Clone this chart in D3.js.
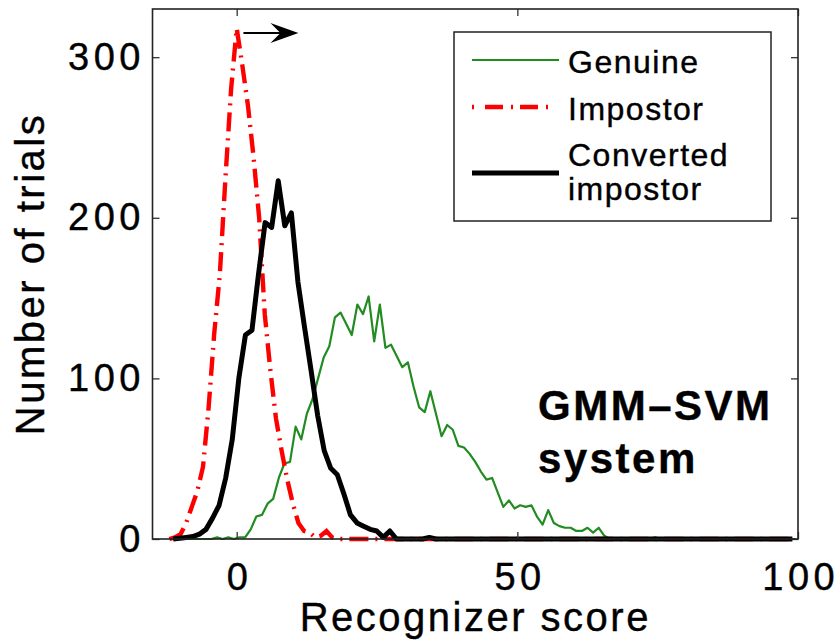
<!DOCTYPE html>
<html><head><meta charset="utf-8">
<script src="https://cdn.jsdelivr.net/npm/d3@7"></script>
<style>
body{margin:0;background:#fff}
svg{display:block}
text{font-family:"Liberation Sans",Arial,Helvetica,sans-serif;fill:#000;stroke:#000;stroke-width:0.4px}
</style>
</head><body>
<svg id="chart" width="838" height="644"></svg>
<script>
// ---- data ----
const xTicks = [0, 50, 100];
const yTicks = [0, 100, 200, 300];
const seriesNames = ["Genuine", "Impostor", "Converted impostor"];

const genuineScores = [-8.5,-7.5,-6.5,-5.5,-4.5,-3.5,-2.5,-1.5,-0.5,0.5,1.5,2.5,3.5,4.5,5.5,6.5,7.5,8.5,9.5,10.5,11.5,12.5,13.5,14.5,15.5,16.5,17.5,18.5,19.5,20.5,21.5,22.5,23.5,24.5,25.5,26.5,27.5,28.5,29.5,30.5,31.5,32.5,33.5,34.5,35.5,36.5,37.5,38.5,39.5,40.5,41.5,42.5,43.5,44.5,45.5,46.5,47.5,48.5,49.5,50.5,51.5,52.5,53.5,54.5,55.5,56.5,57.5,58.5,59.5,60.5,61.5,62.5,63.5,64.5,65.5,66.5,73.5,74.5,75.5,99.5];
const genuineCounts = [0,0,0,0,0,1,0,1,0,1,1,6,14,15,22,25,38,47,48,70,62,78,87,100,113,120,138,141,134,127,146,140,151,123,146,119,121,114,107,110,95,82,79,92,78,64,71,68,58,57,53,48,42,37,38,29,20,24,19,21,20,21,14,9,18,10,8,7,7,5,5,7,4,7,2,0,0,1,0,0];

const impostorScores = [-12,-11,-10,-9,-8,-7,-6,-5,-4,-3,-2,-1,0,1,2,3,4,5,6,7,8,9,10,11,12,13,14,15,16,17,18,99];
const impostorCounts = [0,1,3,10,20,30,45,82,128,165,225,280,318,295,270,238,200,140,105,75,55,37,22,10,5,4,1,2,5,1,0,0];

const convertedScores = [-11.32,-10.15,-8.98,-7.81,-6.64,-5.47,-4.30,-3.13,-1.96,-0.79,0.38,1.55,2.72,3.89,5.06,6.23,7.40,8.57,9.74,10.91,12.08,13.25,14.42,15.59,16.76,17.93,19.10,20.27,21.44,22.61,23.78,24.95,26.12,27.29,28.46,33.14,34.31,35.48,99];
const convertedCounts = [0,0.5,1,1.5,3,6,13,21,38,62,100,127,130,165,197,194,223,195,203,160,132,105,77,55,44,40,28,15,10,8,6,5,1,5,0,0,1,0,0];

const arrowFrom = [1.2, 315];
const arrowTo = [11, 315];
const annotationLines = ["GMM\u2013SVM", "system"];
const xLabel = "Recognizer score";
const yLabel = "Number of trials";

// ---- drawing ----
const svg = d3.select("#chart");
const x = d3.scaleLinear().domain([-15, 100]).range([152.5, 798]);
const y = d3.scaleLinear().domain([0, 330]).range([539, 9]);
const x0 = x.range()[0], x1 = x.range()[1], y0 = y.range()[0], y1 = y.range()[1];

const line = (xs, ys) => d3.line().x((d,i)=>x(xs[i])).y((d,i)=>y(ys[i]))(ys);

const plot = svg.append("g");
plot.append("path").attr("d", line(genuineScores, genuineCounts))
  .attr("fill","none").attr("stroke","#228b22").attr("stroke-width",2.2).attr("stroke-linejoin","round");
plot.append("path").attr("d", line(impostorScores, impostorCounts))
  .attr("fill","none").attr("stroke","#ff0000").attr("stroke-width",4.4)
  .attr("stroke-dasharray","19,7,2,7");
plot.append("path").attr("d", line(convertedScores, convertedCounts))
  .attr("fill","none").attr("stroke","#000").attr("stroke-width",5).attr("stroke-linejoin","round");

// axes: inward ticks on all sides
const axStyle = g => { g.select(".domain").remove(); g.selectAll("line").attr("stroke","#333").attr("stroke-width",1.3); };
svg.append("g").attr("transform",`translate(${x0},0)`)
  .call(d3.axisLeft(y).tickValues(yTicks).tickSize(-7).tickPadding(12).tickFormat(d3.format("d")))
  .call(axStyle)
  .selectAll("text").attr("font-size",38).style("letter-spacing","4.5px").attr("dx","4.5px")
  .attr("font-family",'"Liberation Sans",Arial,sans-serif');
svg.append("g").attr("transform",`translate(${x1},0)`)
  .call(d3.axisRight(y).tickValues(yTicks).tickSize(-7).tickFormat(""))
  .call(axStyle);
svg.append("g").attr("transform",`translate(0,${y0})`)
  .call(d3.axisBottom(x).tickValues(xTicks).tickSize(-7).tickPadding(24).tickFormat(d3.format("d")))
  .call(axStyle)
  .selectAll("text").attr("font-size",38).style("letter-spacing","4.5px").attr("dx","2.25px")
  .attr("font-family",'"Liberation Sans",Arial,sans-serif');
svg.append("g").attr("transform",`translate(0,${y1})`)
  .call(d3.axisTop(x).tickValues(xTicks).tickSize(-7).tickFormat(""))
  .call(axStyle);

svg.append("rect").attr("x",x0).attr("y",y1).attr("width",x1-x0).attr("height",y0-y1)
  .attr("fill","none").attr("stroke","#222").attr("stroke-width",1.6);

// arrow
const ax1 = x(arrowFrom[0]), ay = y(arrowFrom[1]), ax2 = x(arrowTo[0]);
svg.append("line").attr("x1",ax1).attr("y1",ay).attr("x2",ax2-12).attr("y2",ay)
  .attr("stroke","#000").attr("stroke-width",2);
svg.append("path")
  .attr("d",`M${ax2},${ay} L${ax2-28},${ay-10} L${ax2-18},${ay} L${ax2-28},${ay+10} Z`)
  .attr("fill","#000");

// annotation
const ann = svg.append("text").attr("x",538).attr("y",420)
  .attr("font-size",42).attr("font-weight","bold").style("letter-spacing","2.5px");
annotationLines.forEach((t,i)=>ann.append("tspan").attr("x",538).attr("dy",i?53:0).text(t));

// axis labels
svg.append("text").attr("x",(x0+x1)/2).attr("y",631).attr("text-anchor","middle")
  .attr("font-size",40).style("letter-spacing","2.5px").text(xLabel);
svg.append("text").attr("transform",`translate(44,${(y0+y1)/2}) rotate(-90)`).attr("text-anchor","middle")
  .attr("font-size",40).style("letter-spacing","2.5px").text(yLabel);

// legend
const lg = svg.append("g");
lg.append("rect").attr("x",454).attr("y",32).attr("width",317).attr("height",189)
  .attr("fill","#fff").attr("stroke","#222").attr("stroke-width",1.5);
const legendItems = [
  {name: seriesNames[0], y: 60, stroke:"#228b22", w:2.2, dash:null, lines:["Genuine"], ty:[73]},
  {name: seriesNames[1], y: 107, stroke:"#ff0000", w:4.4, dash:"2,11,18,8,2,7,18,8", lines:["Impostor"], ty:[120]},
  {name: seriesNames[2], y: 173, stroke:"#000", w:5, dash:null, lines:["Converted","impostor"], ty:[166,200]}
];
legendItems.forEach(it=>{
  lg.append("line").attr("x1",472).attr("x2",559).attr("y1",it.y).attr("y2",it.y)
    .attr("stroke",it.stroke).attr("stroke-width",it.w).attr("stroke-dasharray",it.dash);
  it.lines.forEach((t,i)=>lg.append("text").attr("x",568).attr("y",it.ty[i])
    .attr("font-size",32).style("letter-spacing","1.5px").text(t));
});
</script>
</body></html>
